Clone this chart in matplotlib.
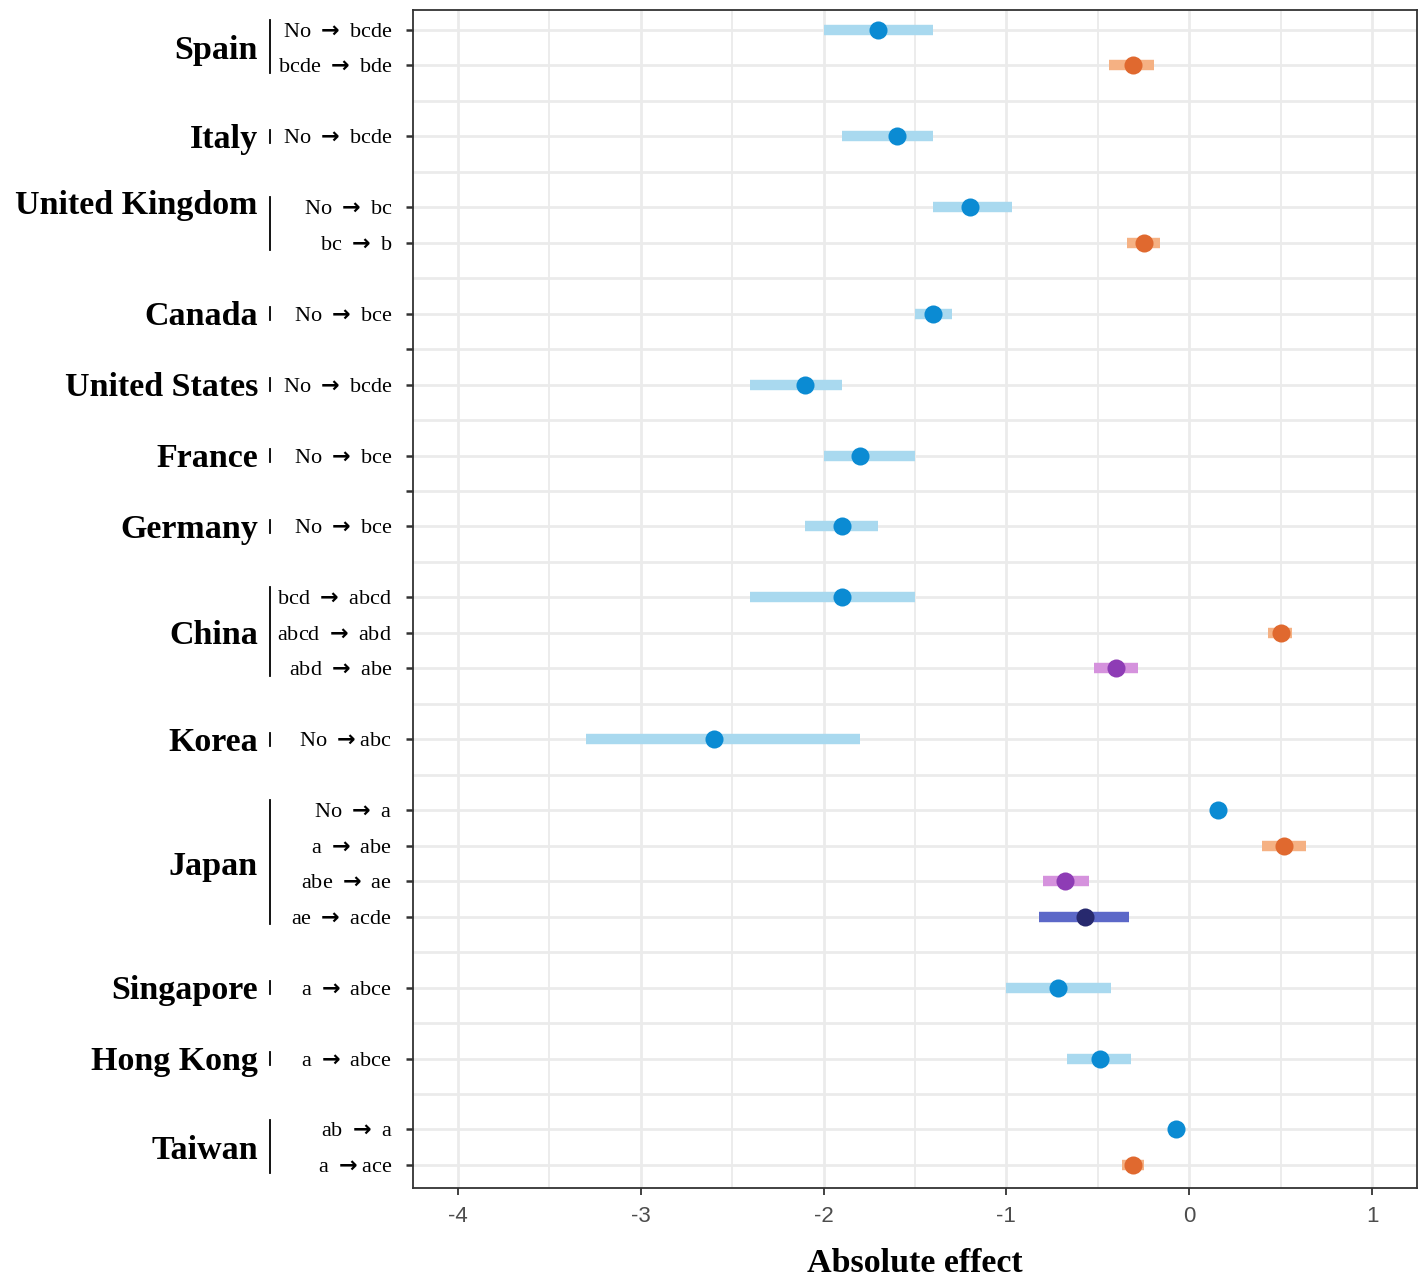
import numpy as np
import matplotlib
matplotlib.use('Agg')
from matplotlib import pyplot as plt
from matplotlib import transforms

plt.rcParams['font.family'] = ['Liberation Serif', 'DejaVu Serif']
plt.rcParams['axes.unicode_minus'] = False
# 箭头用粗一点的字体
plt.rcParams['mathtext.fontset'] = 'custom'
plt.rcParams['mathtext.rm'] = 'DejaVu Sans:bold'
plt.rcParams['mathtext.it'] = 'DejaVu Sans:bold'
plt.rcParams['mathtext.bf'] = 'DejaVu Sans:bold'

A = r'$\rightarrow$'

# 数据
countries = ['Spain', 'Italy', 'United Kingdom', 'Canada', 'United States', 'France',
             'Germany', 'China', 'Korea', 'Japan', 'Singapore', 'Hong Kong', 'Taiwan']
row_country = ['Spain', 'Spain', 'Italy', 'United Kingdom', 'United Kingdom', 'Canada',
               'United States', 'France', 'Germany', 'China', 'China', 'China', 'Korea',
               'Japan', 'Japan', 'Japan', 'Japan', 'Singapore', 'Hong Kong', 'Taiwan', 'Taiwan']
step_labels = ['No → bcde', 'bcde → bde', 'No → bcde', 'No → bc', 'bc → b', 'No → bce',
               'No → bcde', 'No → bce', 'No → bce', 'bcd → abcd', 'abcd → abd', 'abd → abe',
               'No →abc', 'No → a', 'a → abe', 'abe → ae', 'ae → acde', 'a → abce', 'a → abce',
               'ab → a', 'a →ace']
estimates = [-1.70, -0.31, -1.60, -1.20, -0.25, -1.40, -2.10, -1.80, -1.90, -1.90, 0.50, -0.40,
             -2.60, 0.16, 0.52, -0.68, -0.57, -0.72, -0.49, -0.07, -0.31]
ci_low = [-2.00, -0.44, -1.90, -1.40, -0.34, -1.50, -2.40, -2.00, -2.10, -2.40, 0.43, -0.52,
          -3.30, 0.15, 0.40, -0.80, -0.82, -1.00, -0.67, -0.08, -0.37]
ci_high = [-1.40, -0.19, -1.40, -0.97, -0.16, -1.30, -1.90, -1.50, -1.70, -1.50, 0.56, -0.28,
           -1.80, 0.17, 0.64, -0.55, -0.33, -0.43, -0.32, -0.06, -0.25]
step_no = [1, 2, 1, 1, 2, 1, 1, 1, 1, 1, 2, 3, 1, 1, 2, 3, 4, 1, 1, 1, 2]

ci_colors = {1: '#a9d9ef', 2: '#f5b183', 3: '#d592dd', 4: '#5c68c8'}
pt_colors = {1: '#0b8bd3', 2: '#e0692f', 3: '#8e3cb5', 4: '#27296e'}

# 每个国家之间空一行
pos = []
group_rows = {}
blank_rows = []
y = 0
for i, c in enumerate(countries):
    n = row_country.count(c)
    group_rows[c] = list(range(y, y + n))
    pos += group_rows[c]
    y += n
    if i < len(countries) - 1:
        blank_rows.append(y)
        y += 1
n_slots = y

fig = plt.figure(figsize=(14.23, 12.81), dpi=100)
ax = fig.add_axes([0.2902, 0.0726, 0.7056, 0.9196])

for p, e, lo, hi, s in zip(pos, estimates, ci_low, ci_high, step_no):
    ax.plot([lo, hi], [p, p], color=ci_colors[s], lw=7.5, solid_capstyle='butt', zorder=3)
    ax.plot(e, p, 'o', color=pt_colors[s], ms=13, mec='none', zorder=4)

ax.set_xlim(-4.246, 1.246)
ax.set_ylim(n_slots - 1 + 0.65, -0.56)

ax.set_xticks(np.arange(-4, 2, 1))
ax.set_xticks(np.arange(-3.5, 1.5, 1), minor=True)
all_slots = list(range(n_slots))
ax.set_yticks(all_slots)
lab = {p: l.replace('→', A) for p, l in zip(pos, step_labels)}
ax.set_yticklabels([lab.get(s, '') for s in all_slots], fontsize=16)

ax.grid(which='major', color='#ebebeb', lw=2.0, zorder=0)
ax.grid(which='minor', axis='x', color='#ebebeb', lw=1.3, zorder=0)
ax.set_axisbelow(True)
ax.tick_params(axis='x', which='major', length=5, width=1.3, color='#333333',
               labelsize=16, labelcolor='#4d4d4d', pad=8)
ax.tick_params(axis='x', which='minor', length=0)
ax.tick_params(axis='y', length=5, width=1.8, color='#333333', pad=10)
for lbl in ax.get_xticklabels():
    lbl.set_family(['Liberation Sans', 'DejaVu Sans'])

# 空行的刻度线去掉（保留原图里的两个）
keep_blank = [blank_rows[3], blank_rows[5]]
for s, t in zip(all_slots, ax.yaxis.get_major_ticks()):
    if s in blank_rows and s not in keep_blank:
        t.tick1line.set_visible(False)

for sp in ax.spines.values():
    sp.set_color('#333333')
    sp.set_linewidth(1.3)

ax.set_xlabel('Absolute effect', fontsize=24.5, fontweight='bold', labelpad=15)

# 国家名字和竖线
trans = transforms.blended_transform_factory(ax.transAxes, ax.transData)
label_shift = {'United Kingdom': -0.62}
for c in countries:
    rows = group_rows[c]
    if len(rows) > 1:
        y0, y1 = rows[0] - 0.28, rows[-1] + 0.22
    else:
        y0, y1 = rows[0] - 0.18, rows[0] + 0.18
    ax.plot([-0.1424, -0.1424], [y0, y1], color='black', lw=1.3,
            transform=trans, clip_on=False)
    yc = np.mean(rows) + label_shift.get(c, 0) + 0.08
    ax.text(-0.1544, yc, c, transform=trans, ha='right', va='center',
            fontsize=24.5, fontweight='bold')

plt.savefig('out.png', dpi=100)
